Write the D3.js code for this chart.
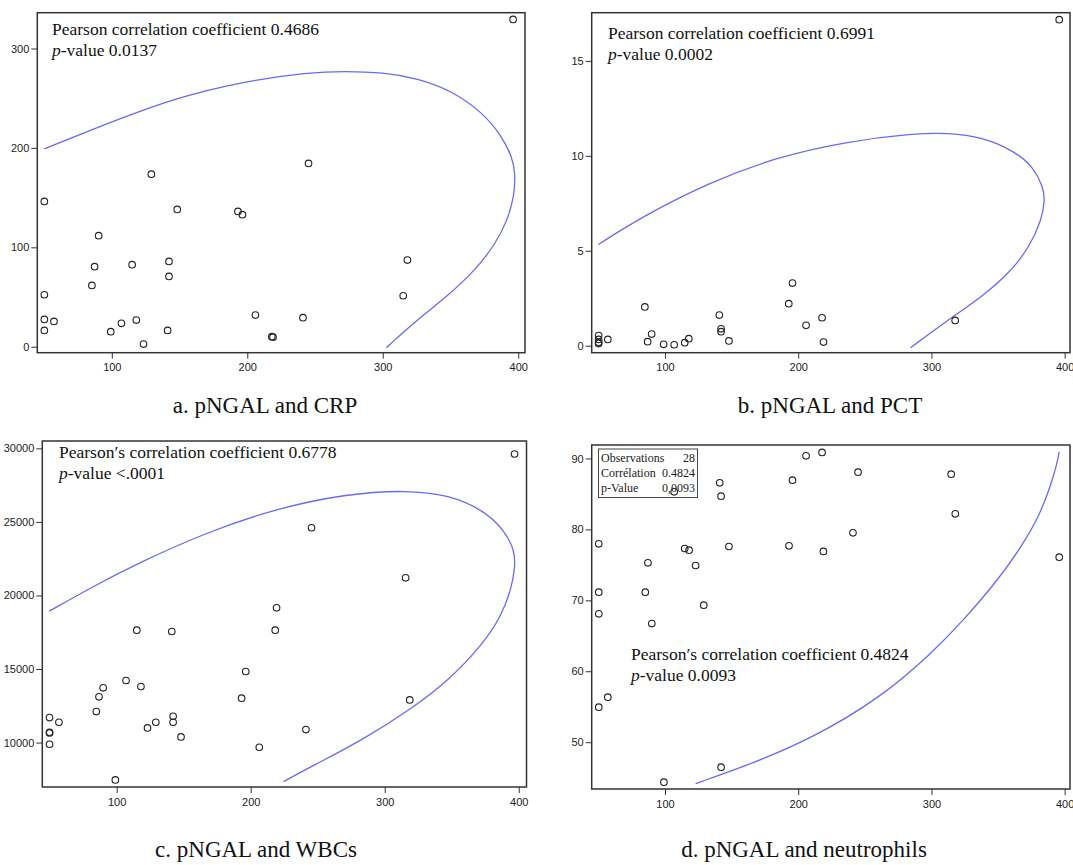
<!DOCTYPE html>
<html>
<head>
<meta charset="utf-8">
<script src="https://cdn.jsdelivr.net/npm/d3@7/dist/d3.min.js"></script>
<style>
  body { margin: 0; background: #fff; }
  svg { display: block; font-family: "Liberation Serif", "Times New Roman", serif; }
  .tick text { font-size: 11px; fill: #222; }
  .tick line { stroke: #333; }
</style>
</head>
<body>
<div id="chart"></div>
<script>
// a. pNGAL vs CRP
const crpX = [396.2, 245.2, 129.2, 50.2, 148.3, 193.1, 196.4, 90.3, 318.2, 142.2, 115.0, 87.3, 142.2, 85.3,
  50.2, 315.1, 206.0, 241.1, 50.2, 57.3, 118.1, 107.1, 50.2, 99.2, 141.2, 218.1, 219.0, 123.4];
const crpY = [329.2, 184.4, 173.6, 146.2, 138.1, 136.1, 132.8, 111.7, 87.2, 85.8, 82.5, 80.5, 70.7, 61.7,
  52.3, 51.3, 31.8, 29.2, 27.5, 25.5, 26.8, 23.5, 16.4, 15.1, 16.4, 10.1, 9.6, 2.7];
const crpCurve = [[50.2, 199.1], [93.6, 222.9], [144.5, 249.4], [195.3, 266.5], [246.2, 276.0], [271.6, 277.2],
  [300.5, 276.0], [325.6, 270.0], [351.0, 257.5], [373.3, 236.0], [387.4, 213.0], [395.5, 191.1], [398.0, 174.3],
  [396.9, 150.2], [392.0, 127.5], [383.5, 103.9], [368.2, 76.8], [347.9, 51.0], [325.0, 26.6], [302.6, -1.0]];

// b. pNGAL vs PCT
const pctX = [395.9, 195.7, 192.9, 84.9, 140.8, 217.9, 317.8, 205.9, 142.1, 142.1, 90.0, 50.2, 57.1, 117.9,
  50.2, 50.2, 50.2, 87.0, 148.0, 219.0, 99.0, 106.9, 114.8];
const pctY = [17.17, 3.30, 2.21, 2.04, 1.61, 1.47, 1.33, 1.07, 0.89, 0.74, 0.61, 0.53, 0.33, 0.37,
  0.33, 0.18, 0.11, 0.21, 0.25, 0.19, 0.07, 0.05, 0.16];
const pctCurve = [[50.0, 5.33], [82.6, 6.79], [133.7, 8.62], [184.8, 9.95], [235.8, 10.75], [286.9, 11.18],
  [312.4, 11.21], [337.9, 11.0], [363.4, 10.21], [376.2, 9.42], [383.9, 8.37], [385.2, 7.67], [382.6, 6.61],
  [373.7, 5.21], [358.4, 3.81], [337.9, 2.58], [312.4, 1.35], [284.3, -0.11]];

// c. pNGAL vs WBCs
const wbcX = [396.9, 245.4, 315.6, 219.3, 115.0, 218.3, 141.1, 196.3, 107.0, 118.1, 89.9, 86.8, 193.2, 318.7,
  84.8, 49.9, 142.1, 56.9, 129.2, 142.1, 123.0, 241.2, 49.9, 49.9, 148.0, 49.9, 206.4, 99.0];
const wbcY = [29615, 24603, 21202, 19161, 17642, 17642, 17551, 14830, 14218, 13810, 13719, 13107, 13016, 12902,
  12109, 11701, 11791, 11383, 11383, 11383, 10998, 10884, 10703, 10658, 10385, 9887, 9683, 7460];
const wbcCurve = [[49.7, 18934], [81.9, 20590], [115.5, 22177], [167.1, 24300], [218.8, 25900], [270.4, 26900],
  [316.9, 27166], [347.9, 26825], [373.7, 25805], [389.2, 24444], [396.9, 23084], [397.4, 21950], [394.3, 20363],
  [386.6, 18549], [373.7, 16735], [347.9, 14240], [322.1, 12426], [283.3, 10159], [244.6, 8345], [224.5, 7347]];

// d. pNGAL vs neutrophils
const neuX = [217.9, 205.9, 244.9, 314.8, 195.7, 141.1, 142.1, 106.9, 317.9, 241.1, 50.3, 114.8, 118.1, 148.0,
  193.1, 218.9, 395.9, 87.2, 123.0, 50.3, 85.2, 129.1, 50.3, 90.1, 57.1, 50.3, 142.1, 99.2];
const neuY = [90.85, 90.38, 88.07, 87.79, 86.94, 86.57, 84.69, 85.3, 82.2, 79.52, 77.97, 77.31, 77.07, 77.59,
  77.68, 76.89, 76.09, 75.29, 74.91, 71.15, 71.15, 69.32, 68.1, 66.73, 56.35, 54.94, 46.48, 44.36];
const neuCurve = [[123.0, 44.17], [159.2, 46.52], [210.2, 50.5], [261.2, 56.2], [299.5, 62.4], [325.0, 67.4],
  [350.5, 73.0], [368.4, 77.8], [381.1, 82.0], [388.8, 85.8], [393.9, 89.0], [395.9, 90.94]];

const xTicks = [100, 200, 300, 400];

const panels = [
  { id: 'a', xs: crpX, ys: crpY, curve: crpCurve, box: [37.3, 525, 12.7, 352.7],
    xDom: [45, 405], yDom: [-6, 336], yTicks: [0, 100, 200, 300],
    notes: ['Pearson correlation coefficient 0.4686', '-value 0.0137'], noteAt: [52, 35],
    title: 'a. pNGAL and CRP', titleAt: [265, 413] },
  { id: 'b', xs: pctX, ys: pctY, curve: pctCurve, box: [591.7, 1070, 12.7, 352.7],
    xDom: [45, 404], yDom: [-0.37, 17.54], yTicks: [0, 5, 10, 15],
    notes: ['Pearson correlation coefficient 0.6991', '-value 0.0002'], noteAt: [608, 39],
    title: 'b. pNGAL and PCT', titleAt: [830, 413] },
  { id: 'c', xs: wbcX, ys: wbcY, curve: wbcCurve, box: [42.3, 526.5, 441, 787],
    xDom: [44.5, 405.8], yDom: [6980, 30500], yTicks: [10000, 15000, 20000, 25000, 30000],
    notes: ['Pearson\u2032s correlation coefficient 0.6778', '-value <.0001'], noteAt: [59, 458],
    title: 'c. pNGAL and WBCs', titleAt: [256, 857] },
  { id: 'd', xs: neuX, ys: neuY, curve: neuCurve, box: [591.7, 1070, 445, 789],
    xDom: [45, 404], yDom: [43.4, 91.9], yTicks: [50, 60, 70, 80, 90],
    notes: ['Pearson\u2032s correlation coefficient 0.4824', '-value 0.0093'], noteAt: [631, 660],
    title: 'd. pNGAL and neutrophils', titleAt: [804, 857] }
];

const statsRows = [['Observations', '28'], ['Corrélation', '0.4824'], ['p-Value', '0,0093']];

const svg = d3.select('#chart').append('svg')
  .attr('width', 1073)
  .attr('height', 865);

panels.forEach(p => {
  const [x0, x1, y0, y1] = p.box;
  const x = d3.scaleLinear().domain(p.xDom).range([x0, x1]);
  const y = d3.scaleLinear().domain(p.yDom).range([y1, y0]);
  const g = svg.append('g');

  g.append('clipPath').attr('id', 'clip-' + p.id)
    .append('rect').attr('x', x0).attr('y', y0).attr('width', x1 - x0).attr('height', y1 - y0);

  // axes
  g.append('g')
    .attr('transform', `translate(0,${y1})`)
    .call(d3.axisBottom(x).tickValues(xTicks).tickSize(6).tickPadding(5).tickFormat(d3.format('d')))
    .call(a => a.select('.domain').remove());
  g.append('g')
    .attr('transform', `translate(${x0},0)`)
    .call(d3.axisLeft(y).tickValues(p.yTicks).tickSize(6).tickPadding(2).tickFormat(d3.format('d')))
    .call(a => a.select('.domain').remove());

  // ellipse curve
  g.append('path')
    .datum(p.curve)
    .attr('clip-path', `url(#clip-${p.id})`)
    .attr('fill', 'none')
    .attr('stroke', '#6a6af0')
    .attr('stroke-width', 1.3)
    .attr('d', d3.line().x(d => x(d[0])).y(d => y(d[1])).curve(d3.curveBasis));

  // stats inset for d
  if (p.id === 'd') {
    const ib = g.append('g');
    ib.append('rect').attr('x', 598.5).attr('y', 449).attr('width', 99).attr('height', 48.5)
      .attr('fill', 'none').attr('stroke', '#444').attr('stroke-width', 1);
    statsRows.forEach((r, i) => {
      ib.append('text').attr('x', 601).attr('y', 461.5 + i * 15).attr('font-size', 12).attr('fill', '#222').text(r[0]);
      ib.append('text').attr('x', 695).attr('y', 461.5 + i * 15).attr('font-size', 12).attr('fill', '#222')
        .attr('text-anchor', 'end').text(r[1]);
    });
  }

  // points
  g.append('g').selectAll('circle')
    .data(p.xs.map((v, i) => [v, p.ys[i]]))
    .join('circle')
    .attr('cx', d => x(d[0]))
    .attr('cy', d => y(d[1]))
    .attr('r', 3.3)
    .attr('fill', 'none')
    .attr('stroke', '#222')
    .attr('stroke-width', 1.1);

  // frame
  g.append('rect')
    .attr('x', x0).attr('y', y0).attr('width', x1 - x0).attr('height', y1 - y0)
    .attr('fill', 'none').attr('stroke', '#333').attr('stroke-width', 1.5);

  // annotation
  const t = g.append('text').attr('font-size', 17.5).attr('fill', '#111');
  t.append('tspan').attr('x', p.noteAt[0]).attr('y', p.noteAt[1]).text(p.notes[0]);
  const l2 = t.append('tspan').attr('x', p.noteAt[0]).attr('y', p.noteAt[1] + 21);
  l2.append('tspan').attr('font-style', 'italic').text('p');
  l2.append('tspan').text(p.notes[1]);

  // panel title
  svg.append('text')
    .attr('x', p.titleAt[0]).attr('y', p.titleAt[1])
    .attr('text-anchor', 'middle')
    .attr('font-size', 23)
    .attr('fill', '#111')
    .text(p.title);
});
</script>
</body>
</html>
